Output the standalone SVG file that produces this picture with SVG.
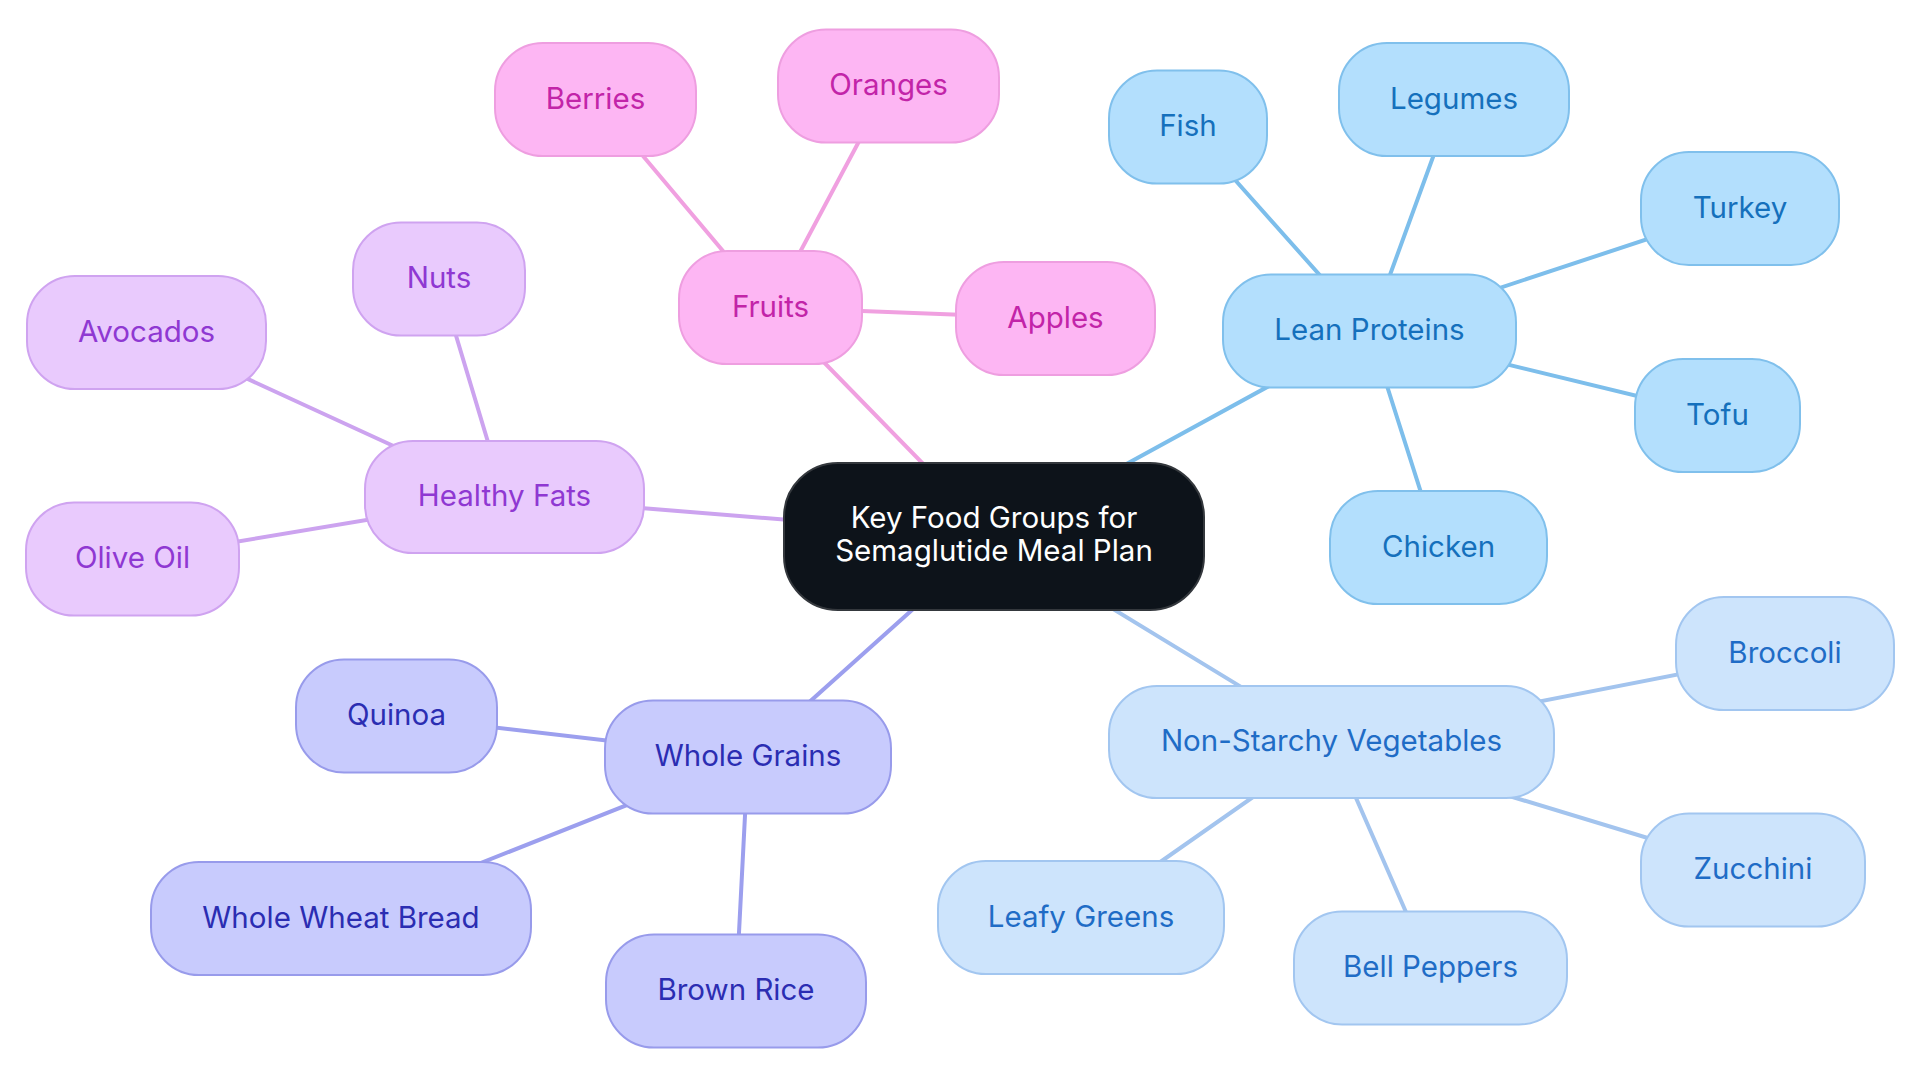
<svg xmlns="http://www.w3.org/2000/svg" width="1920" height="1083" viewBox="0 0 1920 1083">
<style>
text{font-family:Inter,"Noto Sans","Liberation Sans",sans-serif;font-size:29.5px;text-anchor:middle}
.n rect{stroke-width:2}
.pk rect{fill:#FDB6F3;stroke:#EE9EE0}.pk text{fill:#C224A8}
.pu rect{fill:#E9CAFD;stroke:#CFA3F0}.pu text{fill:#8F38D2}
.bl rect{fill:#B3DFFD;stroke:#80C0EC}.bl text{fill:#1570BC}
.lb rect{fill:#CDE4FC;stroke:#A2C6F0}.lb text{fill:#1F6CC6}
.in rect{fill:#C8CBFD;stroke:#989BEB}.in text{fill:#2B2DB2}
#edges line{stroke-width:4;stroke-linecap:round}
.epk{stroke:#F0A0E0}.epu{stroke:#CCA3EF}.ebl{stroke:#7DBEEB}.elb{stroke:#A3C4EE}.ein{stroke:#9C9FEE}
</style>
<rect width="1920" height="1083" fill="#FFFFFF"/>
<g id="edges">
<line class="epk" x1="994" y1="536.5" x2="770.5" y2="307.5"/>
<line class="ebl" x1="994" y1="536.5" x2="1369.5" y2="331"/>
<line class="elb" x1="994" y1="536.5" x2="1331.5" y2="742"/>
<line class="ein" x1="994" y1="536.5" x2="748" y2="757"/>
<line class="epu" x1="994" y1="536.5" x2="504.5" y2="497"/>
<line class="epk" x1="770.5" y1="307.5" x2="595.5" y2="99.5"/>
<line class="epk" x1="770.5" y1="307.5" x2="888.5" y2="86"/>
<line class="epk" x1="770.5" y1="307.5" x2="1055.5" y2="318.5"/>
<line class="epu" x1="504.5" y1="497" x2="439" y2="279"/>
<line class="epu" x1="504.5" y1="497" x2="146.5" y2="332.5"/>
<line class="epu" x1="504.5" y1="497" x2="132.5" y2="559"/>
<line class="ebl" x1="1369.5" y1="331" x2="1188" y2="127"/>
<line class="ebl" x1="1369.5" y1="331" x2="1454" y2="99.5"/>
<line class="ebl" x1="1369.5" y1="331" x2="1740" y2="208.5"/>
<line class="ebl" x1="1369.5" y1="331" x2="1717.5" y2="415.5"/>
<line class="ebl" x1="1369.5" y1="331" x2="1438.5" y2="547.5"/>
<line class="elb" x1="1331.5" y1="742" x2="1785" y2="653.5"/>
<line class="elb" x1="1331.5" y1="742" x2="1753" y2="870"/>
<line class="elb" x1="1331.5" y1="742" x2="1430.5" y2="968"/>
<line class="elb" x1="1331.5" y1="742" x2="1081" y2="917.5"/>
<line class="ein" x1="748" y1="757" x2="396.5" y2="716"/>
<line class="ein" x1="748" y1="757" x2="341" y2="918.5"/>
<line class="ein" x1="748" y1="757" x2="736" y2="991"/>
</g>
<g id="central"><rect x="784" y="463" width="420" height="147" rx="54" fill="#0D131A" stroke="#34383D" stroke-width="2"/><text x="994" y="528" fill="#FFFFFF">Key Food Groups for</text><text x="994" y="561" fill="#FFFFFF">Semaglutide Meal Plan</text></g>
<g id="fruits" class="n pk"><rect x="679" y="251" width="183" height="113" rx="48"/><text x="770.5" y="316.5">Fruits</text></g>
<g id="berries" class="n pk"><rect x="495" y="43" width="201" height="113" rx="48"/><text x="595.5" y="108.5">Berries</text></g>
<g id="oranges" class="n pk"><rect x="778" y="29.5" width="221" height="113" rx="48"/><text x="888.5" y="95">Oranges</text></g>
<g id="apples" class="n pk"><rect x="956" y="262" width="199" height="113" rx="48"/><text x="1055.5" y="327.5">Apples</text></g>
<g id="healthy-fats" class="n pu"><rect x="365" y="441" width="279" height="112" rx="48"/><text x="504.5" y="506">Healthy Fats</text></g>
<g id="nuts" class="n pu"><rect x="353" y="222.5" width="172" height="113" rx="48"/><text x="439" y="288">Nuts</text></g>
<g id="avocados" class="n pu"><rect x="27" y="276" width="239" height="113" rx="48"/><text x="146.5" y="341.5">Avocados</text></g>
<g id="olive-oil" class="n pu"><rect x="26" y="502.5" width="213" height="113" rx="48"/><text x="132.5" y="568">Olive Oil</text></g>
<g id="lean-proteins" class="n bl"><rect x="1223" y="274.5" width="293" height="113" rx="48"/><text x="1369.5" y="340">Lean Proteins</text></g>
<g id="fish" class="n bl"><rect x="1109" y="70.5" width="158" height="113" rx="48"/><text x="1188" y="136">Fish</text></g>
<g id="legumes" class="n bl"><rect x="1339" y="43" width="230" height="113" rx="48"/><text x="1454" y="108.5">Legumes</text></g>
<g id="turkey" class="n bl"><rect x="1641" y="152" width="198" height="113" rx="48"/><text x="1740" y="217.5">Turkey</text></g>
<g id="tofu" class="n bl"><rect x="1635" y="359" width="165" height="113" rx="48"/><text x="1717.5" y="424.5">Tofu</text></g>
<g id="chicken" class="n bl"><rect x="1330" y="491" width="217" height="113" rx="48"/><text x="1438.5" y="556.5">Chicken</text></g>
<g id="non-starchy-vegetables" class="n lb"><rect x="1109" y="686" width="445" height="112" rx="48"/><text x="1331.5" y="751">Non-Starchy Vegetables</text></g>
<g id="broccoli" class="n lb"><rect x="1676" y="597" width="218" height="113" rx="48"/><text x="1785" y="662.5">Broccoli</text></g>
<g id="zucchini" class="n lb"><rect x="1641" y="813.5" width="224" height="113" rx="48"/><text x="1753" y="879">Zucchini</text></g>
<g id="bell-peppers" class="n lb"><rect x="1294" y="911.5" width="273" height="113" rx="48"/><text x="1430.5" y="977">Bell Peppers</text></g>
<g id="leafy-greens" class="n lb"><rect x="938" y="861" width="286" height="113" rx="48"/><text x="1081" y="926.5">Leafy Greens</text></g>
<g id="whole-grains" class="n in"><rect x="605" y="700.5" width="286" height="113" rx="48"/><text x="748" y="766">Whole Grains</text></g>
<g id="quinoa" class="n in"><rect x="296" y="659.5" width="201" height="113" rx="48"/><text x="396.5" y="725">Quinoa</text></g>
<g id="whole-wheat-bread" class="n in"><rect x="151" y="862" width="380" height="113" rx="48"/><text x="341" y="927.5">Whole Wheat Bread</text></g>
<g id="brown-rice" class="n in"><rect x="606" y="934.5" width="260" height="113" rx="48"/><text x="736" y="1000">Brown Rice</text></g>
</svg>
